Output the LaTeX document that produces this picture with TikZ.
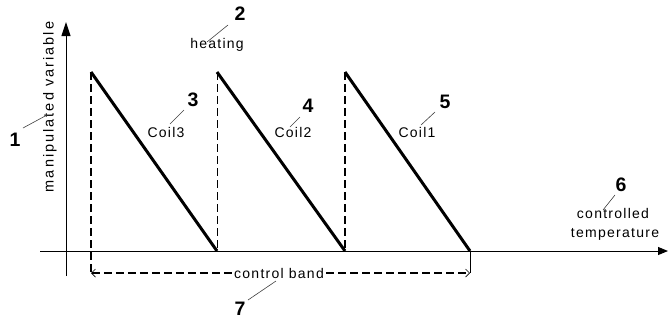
\documentclass[tikz,border=0pt]{standalone}
\usepackage{fontspec}
\setmainfont{Liberation Sans}
\newfontfamily\lblfont[LetterSpace=9]{Liberation Sans}
\newfontfamily\widelblfont[LetterSpace=14]{Liberation Sans}
\usetikzlibrary{arrows.meta}
\begin{document}
\begin{tikzpicture}[x=1pt,y=-1pt,
  lab/.style={font=\lblfont\fontsize{14}{16}\selectfont, inner sep=0pt},
  widelab/.style={font=\widelblfont\fontsize{14.5}{16}\selectfont, inner sep=0pt},
  num/.style={font=\fontsize{19.5}{20}\selectfont\bfseries, inner sep=0pt},
  leader/.style={line width=0.6pt, black!75},
  axis/.style={line width=1pt},
  saw/.style={line width=3pt},
  guide/.style={line width=1.4pt, dash pattern=on 8pt off 4pt},
]
\useasboundingbox (0,0) rectangle (669,322);
% coordinates
\coordinate (yb) at (66,276);
\coordinate (yt) at (66,22);
\coordinate (xl) at (40,251);
\coordinate (xr) at (668,251);
\coordinate (t1) at (91,72);
\coordinate (t2) at (217,72);
\coordinate (t3) at (345,72);
\coordinate (b1) at (217,251);
\coordinate (b2) at (345,251);
\coordinate (b3) at (470,251);
\coordinate (c1) at (91,273);
\coordinate (c2) at (470,273);
% axes
\draw[axis,-{Triangle[length=14pt,width=9pt]}] (yb) -- (yt);
\draw[axis,-{Triangle[length=10pt,width=8pt]}] (xl) -- (xr);
% dashed guides
\draw[guide] (t1) -- (c1);
\draw[guide, line width=1pt] (t2) -- (b1);
\draw[guide] (t3) -- (b2);
% sawtooth
\draw[saw] (t1) -- (b1);
\draw[saw] (t2) -- (b2);
\draw[saw] (t3) -- (b3);
\draw[line width=0.8pt] (b3) -- (c2);
% control band
\node[lab, fill=white, inner xsep=2pt, inner ysep=1pt] (band) at (279,273) {control band};
\draw[guide, {Straight Barb[length=4pt,width=8pt,line width=0.7pt]}-] (c1) -- (band.west);
\draw[guide, -{Straight Barb[length=4pt,width=8pt,line width=0.7pt]}] (band.east) -- (c2);
% labels
\node[widelab, rotate=90] (mv) at (50,107) {manipulated variable};
\node[lab] (heat) at (217,45) {heating};
\node[lab] (coil3) at (166,132) {Coil3};
\node[lab] (coil2) at (293,132) {Coil2};
\node[lab] (coil1) at (417,132) {Coil1};
\node[lab] (ctrl) at (613,213) {controlled};
\node[lab] (temp) at (615,234) {temperature};
% numbers
\node[num] (n1) at (15,140) {1};
\node[num] (n2) at (240,14) {2};
\node[num] (n3) at (193,100) {3};
\node[num] (n4) at (308,106) {4};
\node[num] (n5) at (445,102) {5};
\node[num] (n6) at (621,185) {6};
\node[num] (n7) at (240,309) {7};
% leaders
\coordinate (l1a) at (23,128); \coordinate (l1b) at (47,115);
\coordinate (l2a) at (228,25); \coordinate (l2b) at (207,42);
\coordinate (l3a) at (184,110); \coordinate (l3b) at (170,124);
\coordinate (l4a) at (300,117); \coordinate (l4b) at (290,127);
\coordinate (l5a) at (435,112); \coordinate (l5b) at (421,125);
\coordinate (l6a) at (615,195); \coordinate (l6b) at (603,210);
\coordinate (l7a) at (248,300); \coordinate (l7b) at (276,281);
\draw[leader] (l1a) -- (l1b);
\draw[leader] (l2a) -- (l2b);
\draw[leader] (l3a) -- (l3b);
\draw[leader] (l4a) -- (l4b);
\draw[leader] (l5a) -- (l5b);
\draw[leader] (l6a) -- (l6b);
\draw[leader] (l7a) -- (l7b);
\end{tikzpicture}
\end{document}
